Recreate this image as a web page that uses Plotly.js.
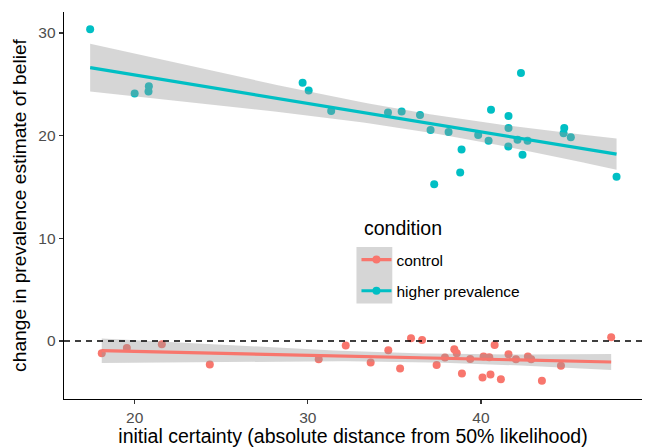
<!DOCTYPE html>
<html><head><meta charset="utf-8">
<script src="https://cdn.plot.ly/plotly-3.0.1.min.js"></script>
<style>html,body{margin:0;padding:0;background:#fff}#chart{width:646px;height:447px}</style>
</head><body><div id="chart"></div>
<script>
const groups = ["control", "higher prevalence"];
const groupColors = ["#F8766D", "#00BFC4"];
const legendTitle = "condition";

const controlX = [18.1, 19.55, 21.57, 24.34, 30.63, 32.19, 33.63, 34.65, 35.33, 35.96, 36.6, 37.44, 37.92, 38.46, 38.6, 38.9, 39.38, 40.09, 40.15, 40.48, 40.55, 40.79, 41.15, 41.59, 42.02, 42.71, 42.9, 43.52, 44.62, 47.52];
const controlY = [-1.2, -0.68, -0.32, -2.3, -1.78, -0.45, -2.1, -0.9, -2.69, 0.26, 0.1, -2.33, -1.62, -0.81, -1.2, -3.17, -1.75, -3.56, -1.52, -1.59, -3.27, -0.39, -3.72, -1.3, -1.78, -1.52, -1.78, -3.88, -2.4, 0.36];

const higherX = [17.43, 20.0, 20.82, 20.8, 29.7, 30.05, 31.35, 34.63, 35.42, 36.48, 37.09, 38.13, 38.88, 38.8, 37.3, 39.84, 42.31, 40.58, 41.59, 41.59, 40.44, 41.58, 42.11, 42.69, 42.40, 44.81, 44.77, 45.19, 47.83];
const higherY = [30.35, 24.1, 24.8, 24.3, 25.15, 24.4, 22.4, 22.26, 22.36, 22.0, 20.55, 20.36, 18.64, 16.4, 15.27, 20.07, 26.09, 22.52, 21.9, 20.75, 19.51, 18.93, 19.61, 19.51, 18.13, 20.75, 20.22, 19.84, 15.99];

const xTicks = [20, 30, 40];
const yTicks = [0, 10, 20, 30];
const xTitle = "initial certainty (absolute distance from 50% likelihood)";
const yTitle = "change in prevalence estimate of belief";
const refLineY = 0;

function tQuant(df) {
  const z = 1.959964;
  const z3 = z*z*z, z5 = z3*z*z, z7 = z5*z*z;
  return z + (z3 + z)/(4*df) + (5*z5 + 16*z3 + 3*z)/(96*df*df) + (3*z7 + 19*z5 + 17*z3 - 15*z)/(384*df*df*df);
}

function lmFit(xs, ys) {
  const n = xs.length;
  const mx = xs.reduce((a,b)=>a+b,0)/n, my = ys.reduce((a,b)=>a+b,0)/n;
  let sxx = 0, sxy = 0;
  for (let i=0;i<n;i++){ sxx += (xs[i]-mx)**2; sxy += (xs[i]-mx)*(ys[i]-my); }
  const b = sxy/sxx, a = my - b*mx;
  let sse = 0;
  for (let i=0;i<n;i++){ sse += (ys[i]-a-b*xs[i])**2; }
  const s = Math.sqrt(sse/(n-2));
  const t = tQuant(n-2);
  const xmin = Math.min(...xs), xmax = Math.max(...xs);
  const gx=[], gy=[], lo=[], hi=[];
  for (let k=0;k<80;k++){
    const x = xmin + (xmax-xmin)*k/79;
    const y = a + b*x;
    const se = s*Math.sqrt(1/n + (x-mx)**2/sxx);
    gx.push(x); gy.push(y); lo.push(y - t*se); hi.push(y + t*se);
  }
  return {gx, gy, lo, hi};
}

const sets = [[controlX, controlY], [higherX, higherY]];
const traces = [];
sets.forEach((s, i) => {
  traces.push({x: s[0], y: s[1], type: 'scatter', mode: 'markers', showlegend: false, hoverinfo: 'skip',
    marker: {color: groupColors[i], size: 8}});
});
sets.forEach((s, i) => {
  const f = lmFit(s[0], s[1]);
  traces.push({x: f.gx, y: f.lo, type: 'scatter', mode: 'lines', line: {width: 0}, showlegend: false, hoverinfo: 'skip'});
  traces.push({x: f.gx, y: f.hi, type: 'scatter', mode: 'lines', line: {width: 0}, fill: 'tonexty',
    fillcolor: 'rgba(153,153,153,0.4)', showlegend: false, hoverinfo: 'skip'});
  traces.push({x: f.gx, y: f.gy, type: 'scatter', mode: 'lines', line: {color: groupColors[i], width: 3.2}, showlegend: false, hoverinfo: 'skip'});
});
groups.forEach((g, i) => {
  traces.push({x: [null], y: [null], type: 'scatter', mode: 'lines+markers', name: g, legendgroup: g,
    line: {color: groupColors[i], width: 3.2}, marker: {color: groupColors[i], size: 8}});
});

const layout = {
  width: 646, height: 447,
  margin: {l: 64, r: 4, t: 12, b: 48},
  paper_bgcolor: '#fff', plot_bgcolor: '#fff',
  font: {family: 'Liberation Sans, Arial, sans-serif', color: '#000'},
  xaxis: {range: [15.92, 49.3], tickvals: xTicks, ticktext: xTicks.map(String), showgrid: false, zeroline: false,
    showline: true, linecolor: '#000', linewidth: 1.3, ticks: 'outside', ticklen: 4, tickwidth: 1.2, tickcolor: '#333',
    tickfont: {size: 15.5, color: '#4D4D4D'}, title: {text: xTitle, font: {size: 19.5, color: '#000'}, standoff: 4}},
  yaxis: {range: [-5.65, 32.04], tickvals: yTicks, ticktext: yTicks.map(String), showgrid: false, zeroline: false,
    showline: true, linecolor: '#000', linewidth: 1.3, ticks: 'outside', ticklen: 4, tickwidth: 1.2, tickcolor: '#333',
    tickfont: {size: 15.5, color: '#4D4D4D'}, title: {text: yTitle, font: {size: 19.2, color: '#000'}, standoff: 6}},
  shapes: [
    {type: 'line', xref: 'paper', x0: 0, x1: 1, yref: 'y', y0: refLineY, y1: refLineY,
      line: {color: '#000', width: 1.3, dash: '6px,5px'}},
    {type: 'rect', xref: 'paper', yref: 'paper', x0: 0.506, x1: 0.568, y0: 0.247, y1: 0.393,
      fillcolor: '#D6D6D6', line: {width: 0}, layer: 'below'}
  ],
  annotations: [
    {text: legendTitle, xref: 'paper', yref: 'paper', x: 0.5156, y: 0.442, xanchor: 'left', yanchor: 'middle',
      showarrow: false, font: {size: 19.5, color: '#000'}}
  ],
  legend: {x: 0.506, y: 0.403, xanchor: 'left', yanchor: 'top', bgcolor: 'rgba(0,0,0,0)', borderwidth: 0,
    font: {size: 15.5}, itemwidth: 30, tracegroupgap: 8},
  showlegend: true
};
Plotly.newPlot('chart', traces, layout, {staticPlot: true, displayModeBar: false});
</script></body></html>
